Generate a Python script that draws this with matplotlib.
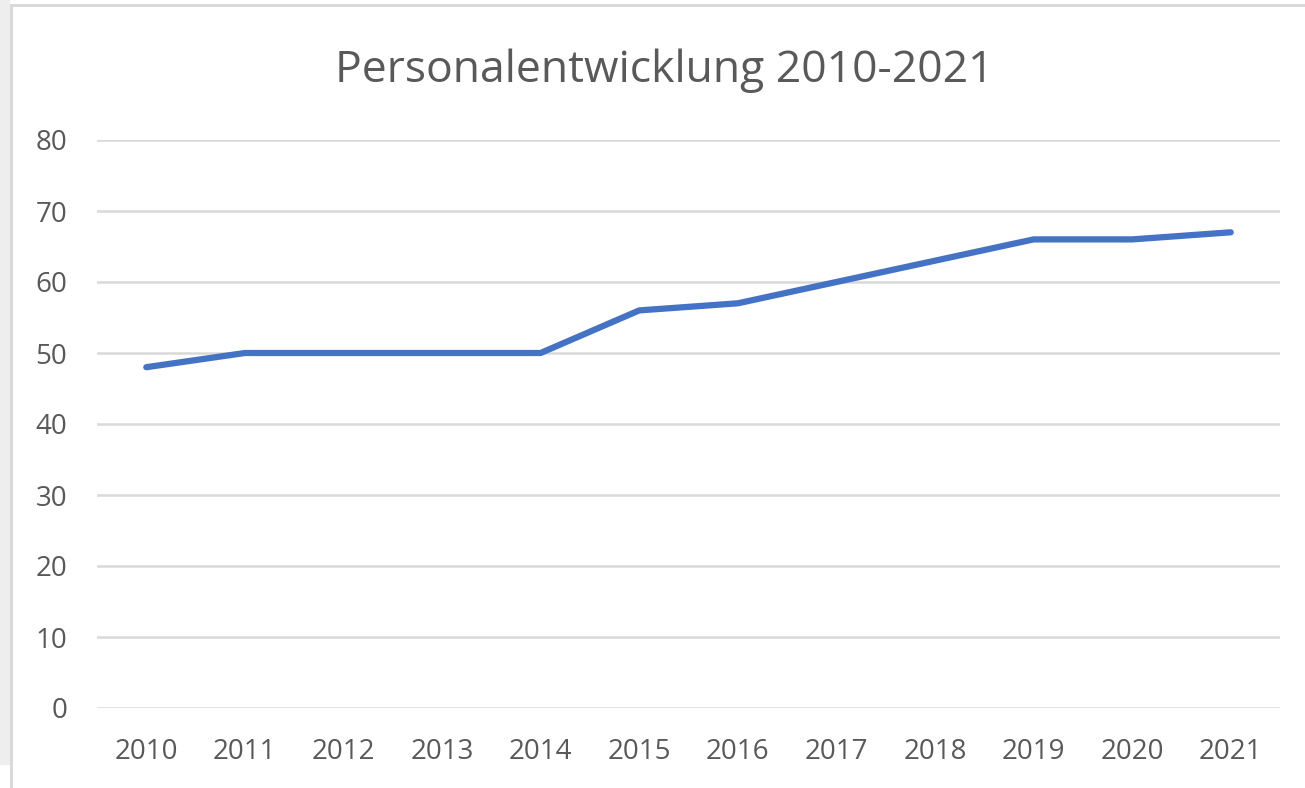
import matplotlib
matplotlib.use("Agg")
import matplotlib.pyplot as plt
from matplotlib.patches import Rectangle

years = ["2010", "2011", "2012", "2013", "2014", "2015", "2016", "2017", "2018", "2019", "2020", "2021"]
staff = [48, 50, 50, 50, 50, 56, 57, 60, 63, 66, 66, 67]
yticks = [0, 10, 20, 30, 40, 50, 60, 70, 80]
title = "Personalentwicklung 2010-2021"

W, H = 1305, 788
fig = plt.figure(figsize=(W / 100, H / 100), dpi=100)
fig.patch.set_facecolor("white")

# outside gray area and chart border
fig.patches.append(Rectangle((0, (H - 765) / H), 10 / W, 765 / H, transform=fig.transFigure,
                             facecolor="#EEEEEE", edgecolor="none", zorder=0))
fig.patches.append(Rectangle((10 / W, 0), 3 / W, (H - 4) / H, transform=fig.transFigure,
                             facecolor="#D9D9D9", edgecolor="none", zorder=1))
fig.patches.append(Rectangle((10 / W, (H - 7) / H), (W - 10) / W, 3 / H, transform=fig.transFigure,
                             facecolor="#D9D9D9", edgecolor="none", zorder=1))

ax = fig.add_axes([97 / W, (H - 708) / H, (1280 - 97) / W, (708 - 140) / H])
ax.set_facecolor("none")
x = list(range(len(years)))
ax.plot(x, staff, color="#4472C4", linewidth=4.5, solid_capstyle="round",
        solid_joinstyle="round", zorder=3)

ax.set_xlim(-0.5, len(years) - 0.5)
ax.set_ylim(0, 80)
ax.set_yticks(yticks)
ax.set_xticks(x)
ax.set_xticklabels(years)
ax.grid(axis="y", color="#D9D9D9", linewidth=1.8)
ax.set_axisbelow(True)
for s in ax.spines.values():
    s.set_visible(False)
ax.tick_params(axis="both", length=0, labelcolor="#595959", labelsize=20)
ax.tick_params(axis="y", pad=21.5)
ax.tick_params(axis="x", pad=21.5)
for lab in ax.get_xticklabels() + ax.get_yticklabels():
    lab.set_family(["Open Sans", "DejaVu Sans"])

fig.text(664 / W, (H - 82) / H, title, ha="center", va="baseline",
         fontsize=32, color="#595959", family=["Open Sans", "DejaVu Sans"])

fig.savefig("out.png", dpi=100)
